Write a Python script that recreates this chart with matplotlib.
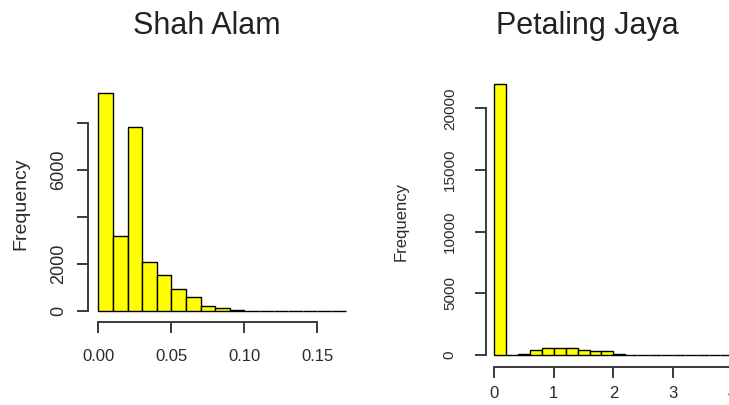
import matplotlib

matplotlib.use("Agg")
import matplotlib.pyplot as plt
import numpy as np

plt.rcParams["font.family"] = ["Liberation Sans", "DejaVu Sans"]

# Shah Alam histogram: bin width 0.01 from 0 to 0.17
sa_bin_width = 0.01
sa_counts = [9290, 3190, 7860, 2090, 1525, 940, 570, 200, 130, 50,
             0, 0, 0, 0, 0, 0, 0]
sa_yticks = [0, 2000, 4000, 6000, 8000]
sa_ylabels = ["0", "2000", "", "6000", ""]
sa_xticks = [0.00, 0.05, 0.10, 0.15]
sa_xlabels = ["0.00", "0.05", "0.10", "0.15"]

# Petaling Jaya histogram: bin width 0.2 from 0 up past the right edge
pj_bin_width = 0.2
pj_counts = [21940, 0, 100, 400, 540, 540, 540, 430, 325, 325, 100,
             0, 0, 0, 0, 0, 0, 0, 0, 0, 0, 0]
pj_yticks = [0, 5000, 10000, 15000, 20000]
pj_xticks = [0, 1, 2, 3, 4]

TEXT = "#2a2a2a"
AXIS = "#3a3a3a"


def hist_panel(fig, rect, counts, width, xlim, ylim, xticks, xlabels,
               yticks, ylabels, ysize, xsize, ypad, xpad, xaxis_end):
    ax = fig.add_axes(rect)
    edges = np.arange(len(counts)) * width
    ax.bar(edges, counts, width=width, align="edge", color="#FFFF00",
           edgecolor="black", linewidth=1.0)
    ax.set_xlim(*xlim)
    ax.set_ylim(*ylim)
    for side in ("top", "right"):
        ax.spines[side].set_visible(False)
    for side in ("left", "bottom"):
        ax.spines[side].set_color(AXIS)
        ax.spines[side].set_linewidth(1.4)
    ax.spines["left"].set_bounds(yticks[0], yticks[-1])
    ax.spines["bottom"].set_bounds(xticks[0], xaxis_end)
    ax.set_xticks(xticks)
    ax.set_xticklabels(xlabels, fontsize=xsize, color=TEXT)
    ax.set_yticks(yticks)
    ax.set_yticklabels(ylabels, fontsize=ysize, color=TEXT, rotation=90,
                       va="center")
    ax.tick_params(axis="both", length=8, width=1.4, color=AXIS)
    ax.tick_params(axis="y", pad=ypad)
    ax.tick_params(axis="x", pad=xpad)
    return ax


fig = plt.figure(figsize=(7.29, 4.05), dpi=100)

hist_panel(fig, [0.1213, 0.2057, 0.3676, 0.5854], sa_counts, sa_bin_width,
           (-0.0068, 0.1768), (-470, 9650), sa_xticks, sa_xlabels,
           sa_yticks, sa_ylabels, ysize=13, xsize=12, ypad=7, xpad=12,
           xaxis_end=sa_xticks[-1])

hist_panel(fig, [0.6667, 0.0946, 0.3705, 0.7242], pj_counts, pj_bin_width,
           (-0.14, 4.4), (-949, 22830), pj_xticks,
           [str(v) for v in pj_xticks], pj_yticks,
           [str(v) for v in pj_yticks], ysize=11, xsize=12, ypad=13, xpad=6,
           xaxis_end=4.4)

fig.text(0.2833, 0.937, "Shah Alam", fontsize=22, color="#222222",
         ha="center", va="center")
fig.text(0.8059, 0.937, "Petaling Jaya", fontsize=22, color="#222222",
         ha="center", va="center")
fig.text(21 / 729, 1 - 204 / 405, "Frequency", fontsize=14, color=TEXT,
         rotation=90, ha="center", va="center")
fig.text(401 / 729, 1 - 221.5 / 405, "Frequency", fontsize=12, color=TEXT,
         rotation=90, ha="center", va="center")

fig.savefig("out.png", dpi=100)
